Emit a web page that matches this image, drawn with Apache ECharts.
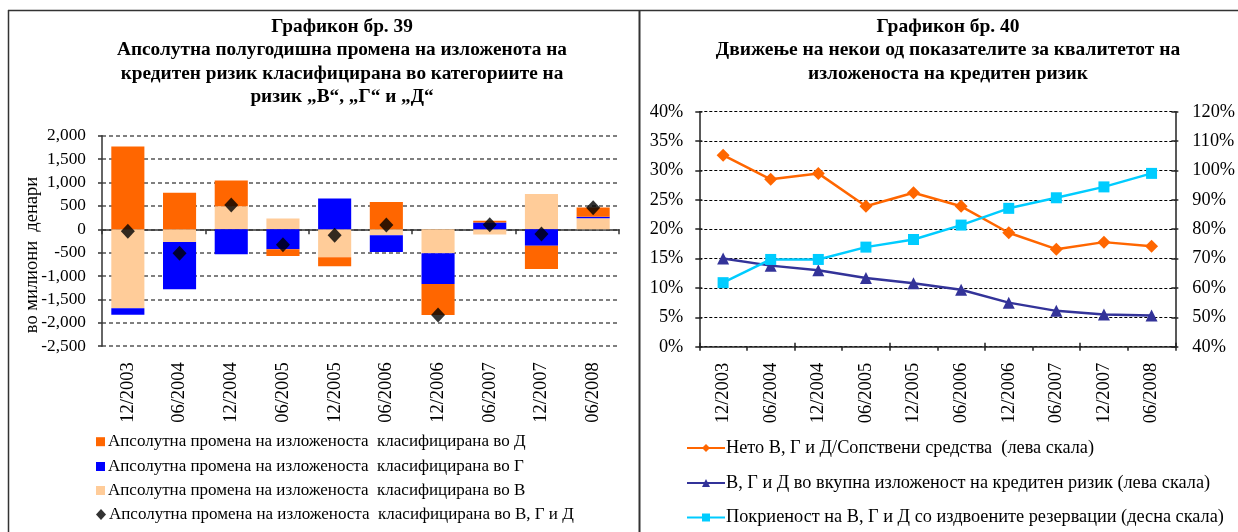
<!DOCTYPE html>
<html>
<head>
<meta charset="utf-8">
<script src="https://cdn.jsdelivr.net/npm/echarts@6/dist/echarts.min.js"></script>
<style>
html,body{margin:0;padding:0;background:#fff;}
#chart{width:1238px;height:532px;}
</style>
</head>
<body>
<div id="chart"></div>
<script>
// ---- data ----
const categories = ['12/2003','06/2004','12/2004','06/2005','12/2005','06/2006','12/2006','06/2007','12/2007','06/2008'];
// Chart 39: absolute half-year change (million denars)
const changeD = [1770, 780, 550, -140, -190, 585, -665, 35, -495, 200];     // category Д
const changeG = [-140, -1015, -535, -430, 660, -355, -655, 145, -355, 30];  // category Г
const changeV = [-1690, -270, 490, 230, -600, -130, -515, -110, 755, 235];  // category В
const changeTotal = [-40, -515, 520, -330, -130, 90, -1835, 95, -100, 460]; // В, Г и Д
// Chart 40: indicators (%)
const netoRatio = [32.6, 28.5, 29.5, 23.9, 26.2, 23.9, 19.4, 16.6, 17.8, 17.1];
const shareRatio = [15.0, 13.8, 13.0, 11.7, 10.8, 9.7, 7.5, 6.1, 5.5, 5.3];
const coverage = [61.8, 69.7, 69.7, 73.9, 76.5, 81.4, 87.1, 90.7, 94.4, 99.0];

const leftTitle = ['Графикон бр. 39','Апсолутна полугодишна промена на изложенота на','кредитен ризик класифицирана во категориите на','ризик „В“, „Г“ и „Д“'];
const rightTitle = ['Графикон бр. 40','Движење на некои од показателите за квалитетот на','изложеноста на кредитен ризик'];
const nameD = 'Апсолутна промена на изложеноста  класифицирана во Д';
const nameG = 'Апсолутна промена на изложеноста  класифицирана во Г';
const nameV = 'Апсолутна промена на изложеноста  класифицирана во В';
const nameT = 'Апсолутна промена на изложеноста  класифицирана во В, Г и Д';
const nameNeto = 'Нето В, Г и Д/Сопствени средства  (лева скала)';
const nameShare = 'В, Г и Д во вкупна изложеност на кредитен ризик (лева скала)';
const nameCov = 'Покриеност на В, Г и Д со издвоените резервации (десна скала)';
const leftUnit = 'во милиони  денари';

// ---- styles ----
const FF = '"Liberation Serif", "Times New Roman", serif';
const txt = size => ({fontFamily: FF, fontSize: size, color: '#000'});
const cOrange = '#FF6600', cBlue = '#0000FF', cPeach = '#FFCC99';
const cNavy = '#333399', cCyan = '#00CCFF';

const chart = echarts.init(document.getElementById('chart'), null, {renderer: 'canvas'});

const numFmt = v => v.toLocaleString('en-US');
const pctFmt = v => v + '%';

// one legend component per entry so each row sits exactly where the reference has it
const leftLegendRows = [[nameD, 'rect', 441.7], [nameG, 'rect', 466.5], [nameV, 'rect', 490.5], [nameT, 'diamond', 514.5]];
const rightLegendRows = [[nameNeto, 448], [nameShare, 483], [nameCov, 517.5]];
const legends = [];
leftLegendRows.forEach(r => legends.push({
  orient: 'horizontal', left: 96, top: r[2] - 9, padding: 0,
  itemWidth: r[1] === 'diamond' ? 10 : 9, itemHeight: r[1] === 'diamond' ? 11 : 9, itemGap: 0,
  textStyle: Object.assign({lineHeight: 18, padding: [0, 0, 0, -2]}, txt(17)),
  data: [{name: r[0], icon: r[1]}]
}));
rightLegendRows.forEach(r => legends.push({
  orient: 'horizontal', left: 686, top: r[1] - 9, padding: 0,
  itemWidth: 38, itemHeight: 10, itemGap: 0,
  textStyle: Object.assign({lineHeight: 18, padding: [0, 0, 0, -4]}, txt(18.3)),
  data: [r[0]]
}));

const option = {
  backgroundColor: '#fff',
  animation: false,
  grid: [
    {left: 102, top: 135.7, width: 517, height: 210.5, containLabel: false},
    {left: 699.3, top: 111.7, width: 479, height: 235, containLabel: false}
  ],
  xAxis: [
    {gridIndex: 0, type: 'category', data: categories, position: 'bottom',
     axisLine: {show: false, onZero: false}, axisTick: {show: false},
     axisLabel: Object.assign({rotate: 90, margin: 16, interval: 0}, txt(18.5))},
    {gridIndex: 0, type: 'category', data: categories, position: 'bottom',
     axisLine: {show: true, onZero: true, lineStyle: {color: '#333', width: 1.5}},
     axisTick: {show: true, length: 5, lineStyle: {color: '#333', width: 1.5}},
     axisLabel: {show: false}},
    {gridIndex: 1, type: 'category', data: categories, position: 'bottom',
     axisLine: {show: true, onZero: false, lineStyle: {color: '#222', width: 1.5}},
     axisTick: {show: true, length: 4, lineStyle: {color: '#222', width: 1.5}},
     axisLabel: Object.assign({rotate: 90, margin: 16, interval: 0}, txt(18.5))},
    {gridIndex: 1, type: 'category', data: categories, position: 'bottom',
     axisLine: {show: false, onZero: false},
     axisTick: {show: true, inside: true, length: 4, lineStyle: {color: '#222', width: 1.5}},
     axisLabel: {show: false}}
  ],
  yAxis: [
    {gridIndex: 0, type: 'value', min: -2500, max: 2000, interval: 500,
     axisLine: {show: true, lineStyle: {color: '#333', width: 1.5}},
     axisTick: {show: true, length: 4, lineStyle: {color: '#333', width: 1.5}},
     axisLabel: Object.assign({margin: 16, formatter: numFmt}, txt(17.3)),
     splitLine: {show: true, lineStyle: {color: '#555', width: 1.5, type: [4, 3]}}},
    {gridIndex: 1, type: 'value', min: 0, max: 40, interval: 5, position: 'left',
     axisLine: {show: true, onZero: false, lineStyle: {color: '#222', width: 1.5}},
     axisTick: {show: true, length: 4, lineStyle: {color: '#222', width: 1.5}},
     axisLabel: Object.assign({margin: 16, formatter: pctFmt}, txt(18.3)),
     splitLine: {show: true, lineStyle: {color: '#000', width: 1, type: [3, 2]}}},
    {gridIndex: 1, type: 'value', min: 40, max: 120, interval: 10, position: 'right',
     axisLine: {show: true, onZero: false, lineStyle: {color: '#222', width: 1.5}},
     axisTick: {show: true, length: 3, lineStyle: {color: '#222', width: 1.5}},
     axisLabel: Object.assign({margin: 17, formatter: pctFmt}, txt(18.3)),
     splitLine: {show: false}},
    {gridIndex: 1, type: 'value', min: 0, max: 40, interval: 5, position: 'left',
     axisLine: {show: false, onZero: false},
     axisTick: {show: true, inside: true, length: 3, lineStyle: {color: '#222', width: 1.5}},
     axisLabel: {show: false}, splitLine: {show: false}},
    {gridIndex: 1, type: 'value', min: 40, max: 120, interval: 10, position: 'right',
     axisLine: {show: false, onZero: false},
     axisTick: {show: true, inside: true, length: 4, lineStyle: {color: '#222', width: 1.5}},
     axisLabel: {show: false}, splitLine: {show: false}}
  ],
  legend: legends,
  series: [
    {name: nameV, type: 'bar', stack: 'chg', xAxisIndex: 0, yAxisIndex: 0, data: changeV,
     barCategoryGap: '36%', itemStyle: {color: cPeach}},
    {name: nameG, type: 'bar', stack: 'chg', xAxisIndex: 0, yAxisIndex: 0, data: changeG,
     barCategoryGap: '36%', itemStyle: {color: cBlue}},
    {name: nameD, type: 'bar', stack: 'chg', xAxisIndex: 0, yAxisIndex: 0, data: changeD,
     barCategoryGap: '36%', itemStyle: {color: cOrange}},
    {name: nameT, type: 'scatter', xAxisIndex: 0, yAxisIndex: 0, data: changeTotal,
     symbol: 'diamond', symbolSize: [14, 15], itemStyle: {color: '#000'}, z: 5},
    {name: nameNeto, type: 'line', xAxisIndex: 2, yAxisIndex: 1, data: netoRatio,
     symbol: 'diamond', symbolSize: 13, showAllSymbol: true,
     lineStyle: {color: cOrange, width: 2.5}, itemStyle: {color: cOrange}},
    {name: nameShare, type: 'line', xAxisIndex: 2, yAxisIndex: 1, data: shareRatio,
     symbol: 'triangle', symbolSize: 12, showAllSymbol: true,
     lineStyle: {color: cNavy, width: 2.5}, itemStyle: {color: cNavy}},
    {name: nameCov, type: 'line', xAxisIndex: 2, yAxisIndex: 2, data: coverage,
     symbol: 'rect', symbolSize: 11, showAllSymbol: true,
     lineStyle: {color: cCyan, width: 2.5}, itemStyle: {color: cCyan}}
  ],
  graphic: [
    {type: 'line', shape: {x1: 8, y1: 10.5, x2: 1238, y2: 10.5}, style: {stroke: '#333', lineWidth: 1.5}, silent: true},
    {type: 'line', shape: {x1: 8.5, y1: 10, x2: 8.5, y2: 532}, style: {stroke: '#333', lineWidth: 1.5}, silent: true},
    {type: 'line', shape: {x1: 639.5, y1: 10, x2: 639.5, y2: 532}, style: {stroke: '#333', lineWidth: 2}, silent: true},
    {type: 'text', x: 342, y: 15, style: {text: leftTitle.join('\n'), font: 'bold 19.3px ' + FF,
      align: 'center', verticalAlign: 'top', lineHeight: 23.5, fill: '#000'}, silent: true},
    {type: 'text', x: 948, y: 15, style: {text: rightTitle.join('\n'), font: 'bold 19.5px ' + FF,
      align: 'center', verticalAlign: 'top', lineHeight: 23.5, fill: '#000'}, silent: true},
    {type: 'text', x: 32, y: 255, rotation: Math.PI / 2, style: {text: leftUnit, font: '18.5px ' + FF,
      align: 'center', verticalAlign: 'middle', fill: '#000'}, silent: true}
  ]
};
chart.setOption(option);
</script>
</body>
</html>
